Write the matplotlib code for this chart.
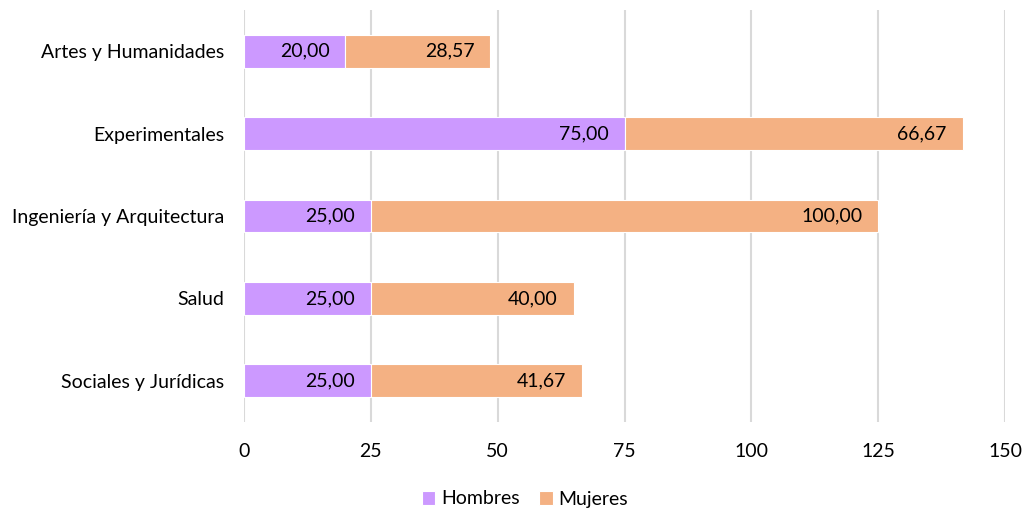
import matplotlib
matplotlib.use("Agg")
import matplotlib.pyplot as plt
import numpy as np

categories = ["Artes y Humanidades", "Experimentales", "Ingeniería y Arquitectura", "Salud", "Sociales y Jurídicas"]
hombres = [20.00, 75.00, 25.00, 25.00, 25.00]
mujeres = [28.57, 66.67, 100.00, 40.00, 41.67]
xticks = [0, 25, 50, 75, 100, 125, 150]

plt.rcParams['font.family'] = ['Lato', 'DejaVu Sans']

W, H = 1027, 508
fig = plt.figure(figsize=(W / 100, H / 100), dpi=100)
ax = fig.add_axes([244 / W, 1 - 422 / H, (1005 - 244) / W, (422 - 10) / H])

y = np.arange(len(categories))[::-1]
c_h = "#CC99FF"
c_m = "#F4B183"
bh = 0.4
b1 = ax.barh(y, hombres, height=bh, color=c_h, edgecolor="white", linewidth=0.8, label="Hombres", zorder=3)
b2 = ax.barh(y, mujeres, left=hombres, height=bh, color=c_m, edgecolor="white", linewidth=0.8, label="Mujeres", zorder=3)

def fmt(v):
    return f"{v:.2f}".replace(".", ",")

fs = 14
for bars, vals, lefts in ((b1, hombres, [0] * 5), (b2, mujeres, hombres)):
    for yi, v, l in zip(y, vals, lefts):
        ax.annotate(fmt(v), xy=(l + v, yi), xytext=(-11.5, 0), textcoords="offset points",
                    ha="right", va="center", fontsize=fs, color="#000000", zorder=4)

ax.set_xlim(0, 150)
ax.set_ylim(-0.5, len(categories) - 0.5)
ax.set_xticks(xticks)
ax.set_xticklabels([str(t) for t in xticks], fontsize=fs)
ax.set_yticks(y)
ax.set_yticklabels(categories, fontsize=fs)
ax.tick_params(axis="both", length=0)
ax.tick_params(axis="x", pad=15)
ax.tick_params(axis="y", pad=14)
ax.grid(axis="x", color="#D9D9D9", linewidth=1.5, zorder=0)
for s in ax.spines.values():
    s.set_visible(False)

fig.legend(handles=[b1, b2], labels=["Hombres", "Mujeres"], loc="center", bbox_to_anchor=(525 / W, 1 - 499 / H),
           ncol=2, frameon=False, fontsize=fs, handlelength=0.7, handleheight=0.7, handletextpad=0.3,
           columnspacing=1.0)

fig.savefig("out.png", dpi=100)
